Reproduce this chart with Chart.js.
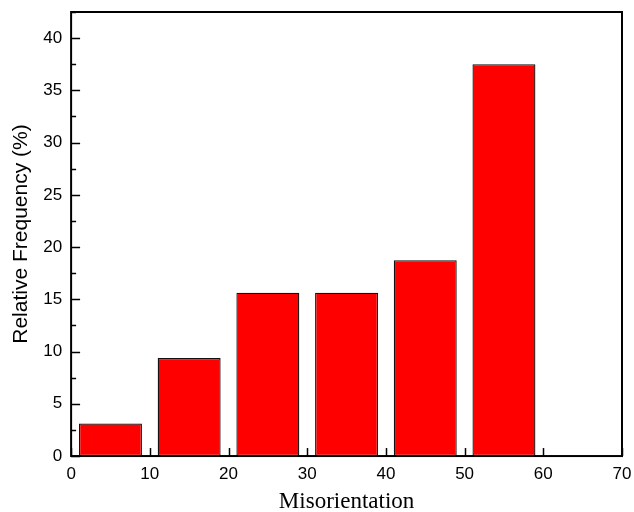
<!DOCTYPE html>
<html>
<head>
<meta charset="utf-8">
<script src="https://cdn.jsdelivr.net/npm/chart.js@4"></script>
<style>
  html, body { margin: 0; padding: 0; background: #fff; }
  #wrap { width: 634px; height: 512px; }
</style>
</head>
<body>
<div id="wrap"><canvas id="grafico" width="634" height="512"></canvas></div>
<script>
// bin centres (degrees) and relative frequency (%)
const binCenters = [5, 15, 25, 35, 45, 55];
const frequencies = [3.125, 9.375, 15.625, 15.625, 18.75, 37.5];
const xTicks = [0, 10, 20, 30, 40, 50, 60, 70];
const yTicks = [0, 5, 10, 15, 20, 25, 30, 35, 40];
const yMinorTicks = [2.5, 7.5, 12.5, 17.5, 22.5, 27.5, 32.5, 37.5, 42.5];

// draw ticks pointing inward, plus the frame
const innerTicks = {
    id: 'innerTicks',
    afterDraw(chart) {
        const ctx = chart.ctx;
        const area = chart.chartArea;
        const xs = chart.scales.x;
        const ys = chart.scales.y;
        ctx.save();
        ctx.strokeStyle = '#000';
        ctx.lineWidth = 1.5;
        xTicks.forEach(v => {
            const px = Math.round(xs.getPixelForValue(v)) + 0.5;
            ctx.beginPath();
            ctx.moveTo(px, area.bottom);
            ctx.lineTo(px, area.bottom - 8);
            ctx.stroke();
        });
        yTicks.forEach(v => {
            const py = Math.round(ys.getPixelForValue(v)) + 0.5;
            ctx.beginPath();
            ctx.moveTo(area.left, py);
            ctx.lineTo(area.left + 9, py);
            ctx.stroke();
        });
        yMinorTicks.forEach(v => {
            const py = Math.round(ys.getPixelForValue(v)) + 0.5;
            ctx.beginPath();
            ctx.moveTo(area.left, py);
            ctx.lineTo(area.left + 5, py);
            ctx.stroke();
        });
        ctx.lineWidth = 2;
        ctx.strokeRect(area.left, area.top, area.right - area.left, area.bottom - area.top);
        ctx.restore();
    }
};

// no label overhang, the layout padding does the job
const noOverhang = s => {
    s.paddingTop = 0;
    s.paddingBottom = 0;
    s.paddingLeft = 0;
    s.paddingRight = 0;
};

new Chart(document.getElementById('grafico'), {
    type: 'bar',
    data: {
        datasets: [{
            data: binCenters.map((x, i) => ({ x: x, y: frequencies[i] })),
            backgroundColor: '#ff0000',
            borderColor: '#111',
            borderWidth: 1.3,
            borderSkipped: false,
            categoryPercentage: 1.0,
            barPercentage: 0.8
        }]
    },
    options: {
        responsive: false,
        animation: false,
        layout: { padding: { top: 12, right: 12, left: 4, bottom: 0 } },
        plugins: { legend: { display: false }, tooltip: { enabled: false } },
        scales: {
            x: {
                type: 'linear',
                min: 0,
                max: 70,
                offset: false,
                afterBuildTicks: s => { s.ticks = xTicks.map(v => ({ value: v })); },
                afterFit: noOverhang,
                ticks: { color: '#000', font: { family: 'Liberation Sans', size: 17 }, padding: 8, maxRotation: 0 },
                grid: { display: false, drawTicks: false },
                border: { display: false },
                title: { display: true, text: 'Misorientation', color: '#000', font: { family: 'Liberation Serif', size: 23, lineHeight: 0.85 }, padding: { top: 0, bottom: 0 } }
            },
            y: {
                min: 0,
                max: 42.5,
                afterBuildTicks: s => { s.ticks = yTicks.map(v => ({ value: v })); },
                afterFit: noOverhang,
                ticks: { color: '#000', font: { family: 'Liberation Sans', size: 17 }, padding: 9 },
                grid: { display: false, drawTicks: false },
                border: { display: false },
                title: { display: true, text: 'Relative Frequency (%)', color: '#000', font: { family: 'Liberation Sans', size: 21 }, padding: { top: 5, bottom: 0 } }
            }
        }
    },
    plugins: [innerTicks]
});
</script>
</body>
</html>
